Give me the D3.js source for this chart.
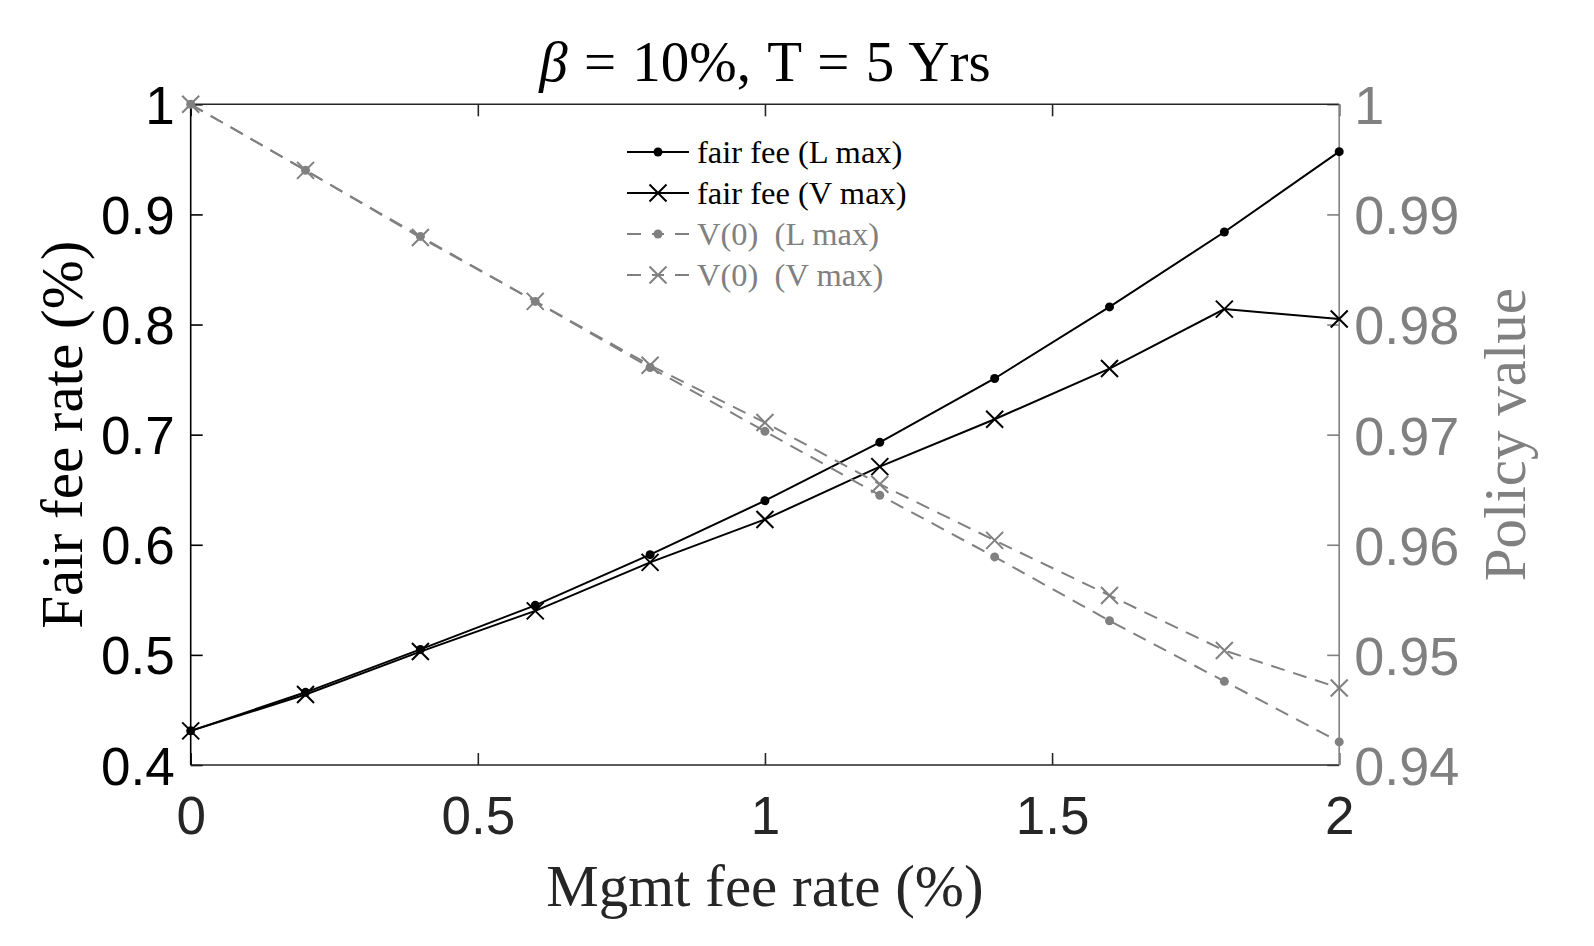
<!DOCTYPE html>
<html>
<head>
<meta charset="utf-8">
<script src="https://cdn.jsdelivr.net/npm/d3@7"></script>
<style>
  html, body { margin: 0; padding: 0; background: #fff; }
  svg { display: block; }
</style>
</head>
<body>
<svg id="chart" width="1594" height="946"></svg>
<script>
const mgmtFee = [0, 0.2, 0.4, 0.6, 0.8, 1.0, 1.2, 1.4, 1.6, 1.8, 2.0];
const fairFeeL = [0.431, 0.466, 0.505, 0.545, 0.591, 0.640, 0.693, 0.751, 0.816, 0.884, 0.957];
const fairFeeV = [0.431, 0.464, 0.503, 0.540, 0.584, 0.623, 0.671, 0.714, 0.760, 0.814, 0.805];
const policyL = [1.0, 0.9940, 0.9880, 0.9821, 0.9761, 0.9703, 0.9645, 0.9589, 0.9531, 0.9476, 0.9421];
const policyV = [1.0, 0.9940, 0.9879, 0.9821, 0.9763, 0.9711, 0.9655, 0.9604, 0.9554, 0.9504, 0.9470];
const xTicks = [0, 0.5, 1, 1.5, 2];
const yLeftTicks = [0.4, 0.5, 0.6, 0.7, 0.8, 0.9, 1];
const yRightTicks = [0.94, 0.95, 0.96, 0.97, 0.98, 0.99, 1];
const legendLabels = ["fair fee (L max)", "fair fee (V max)", "V(0)  (L max)", "V(0)  (V max)"];

const GRAY = "#808080", DARK = "#262626";
const L = 190.7, R = 1339.2, T = 104.3, B = 765;
const svg = d3.select("#chart");

const x = d3.scaleLinear().domain([0, 2]).range([L, R]);
const yL = d3.scaleLinear().domain([0.4, 1]).range([B, T]);
const yR = d3.scaleLinear().domain([0.94, 1]).range([B, T]);

const sans = "'Liberation Sans', Arial, Helvetica, sans-serif";
const serif = "'Liberation Serif', 'Times New Roman', Times, serif";

// axes
const tickLen = 12;
function styleAxis(g, color, size) {
  g.select(".domain").remove();
  g.selectAll(".tick line").attr("stroke", color).attr("stroke-width", 1.6);
  g.selectAll(".tick text").attr("fill", color).style("font-family", sans).style("font-size", size + "px");
}
const gxB = svg.append("g").attr("transform", `translate(0,${B})`)
  .call(d3.axisBottom(x).tickValues(xTicks).tickFormat(d3.format("")).tickSizeInner(-tickLen).tickSizeOuter(0).tickPadding(0));
styleAxis(gxB, DARK, 53);
gxB.selectAll(".tick text").attr("dy", null).attr("y", 69);

const gxT = svg.append("g").attr("transform", `translate(0,${T})`)
  .call(d3.axisTop(x).tickValues(xTicks).tickFormat("").tickSizeInner(-tickLen).tickSizeOuter(0));
styleAxis(gxT, DARK, 53);

const gyL = svg.append("g").attr("transform", `translate(${L},0)`)
  .call(d3.axisLeft(yL).tickValues(yLeftTicks).tickFormat(d3.format("")).tickSizeInner(-tickLen).tickSizeOuter(0).tickPadding(0));
styleAxis(gyL, "#000", 53);
gyL.selectAll(".tick text").attr("x", -16).attr("dy", "0.36em");

const gyR = svg.append("g").attr("transform", `translate(${R},0)`)
  .call(d3.axisRight(yR).tickValues(yRightTicks).tickFormat(d3.format("")).tickSizeInner(-tickLen).tickSizeOuter(0).tickPadding(0));
styleAxis(gyR, GRAY, 54);
gyR.selectAll(".tick text").attr("x", 15).attr("dy", "0.36em");

// box lines
svg.append("line").attr("x1", L).attr("x2", R).attr("y1", T).attr("y2", T).attr("stroke", DARK).attr("stroke-width", 1.6);
svg.append("line").attr("x1", L).attr("x2", R).attr("y1", B).attr("y2", B).attr("stroke", DARK).attr("stroke-width", 1.6);
svg.append("line").attr("x1", L).attr("x2", L).attr("y1", T).attr("y2", B).attr("stroke", "#000").attr("stroke-width", 1.6);
svg.append("line").attr("x1", R).attr("x2", R).attr("y1", T).attr("y2", B).attr("stroke", GRAY).attr("stroke-width", 1.6);

// series
const dash = "14,9";
function drawSeries(values, yScale, color, dashed, marker) {
  const pts = mgmtFee.map((m, i) => [x(m), yScale(values[i])]);
  svg.append("path").attr("d", d3.line()(pts)).attr("fill", "none")
    .attr("stroke", color).attr("stroke-width", 2)
    .attr("stroke-dasharray", dashed ? dash : null);
  const g = svg.append("g");
  pts.forEach(p => drawMarker(g, p[0], p[1], color, marker));
}
function drawMarker(g, cx, cy, color, marker) {
  if (marker === "dot") {
    g.append("circle").attr("cx", cx).attr("cy", cy).attr("r", 4.5).attr("fill", color);
  } else {
    const s = 8.5;
    g.append("path").attr("d", `M${cx - s},${cy - s}L${cx + s},${cy + s}M${cx - s},${cy + s}L${cx + s},${cy - s}`)
      .attr("stroke", color).attr("stroke-width", 2).attr("fill", "none");
  }
}
drawSeries(fairFeeL, yL, "#000", false, "dot");
drawSeries(fairFeeV, yL, "#000", false, "x");
drawSeries(policyL, yR, GRAY, true, "dot");
drawSeries(policyV, yR, GRAY, true, "x");

// legend
const legend = [
  {label: legendLabels[0], color: "#000", dashed: false, marker: "dot"},
  {label: legendLabels[1], color: "#000", dashed: false, marker: "x"},
  {label: legendLabels[2], color: GRAY, dashed: true, marker: "dot"},
  {label: legendLabels[3], color: GRAY, dashed: true, marker: "x"}
];
const lgX0 = 627, lgX1 = 689, lgY0 = 152, lgDY = 41;
legend.forEach((d, i) => {
  const yy = lgY0 + i * lgDY;
  const g = svg.append("g");
  g.append("line").attr("x1", lgX0).attr("x2", lgX1).attr("y1", yy).attr("y2", yy)
    .attr("stroke", d.color).attr("stroke-width", 2)
    .attr("stroke-dasharray", d.dashed ? "14,11,12,11,14" : null);
  drawMarker(g, (lgX0 + lgX1) / 2, yy, d.color, d.marker);
  g.append("text").attr("x", 697).attr("y", yy).attr("dy", "0.33em")
    .attr("fill", d.color).style("font-family", serif).style("font-size", "32.5px")
    .style("white-space", "pre").attr("xml:space", "preserve").text(d.label);
});

// titles
svg.append("text").attr("x", (L + R) / 2).attr("y", 81).attr("text-anchor", "middle")
  .style("font-family", serif).style("font-size", "57px").style("word-spacing", "2px").attr("fill", "#000")
  .html('<tspan font-style="italic">β</tspan> = 10%, T = 5 Yrs');
svg.append("text").attr("x", (L + R) / 2).attr("y", 906).attr("text-anchor", "middle")
  .style("font-family", serif).style("font-size", "59px").attr("fill", DARK).text("Mgmt fee rate (%)");
svg.append("text").attr("transform", `translate(82,${(T + B) / 2}) rotate(-90)`).attr("text-anchor", "middle")
  .style("font-family", serif).style("font-size", "59px").attr("fill", "#000").text("Fair fee rate (%)");
svg.append("text").attr("transform", `translate(1525,${(T + B) / 2}) rotate(-90)`).attr("text-anchor", "middle")
  .style("font-family", serif).style("font-size", "59px").attr("fill", GRAY).text("Policy value");
</script>
</body>
</html>
